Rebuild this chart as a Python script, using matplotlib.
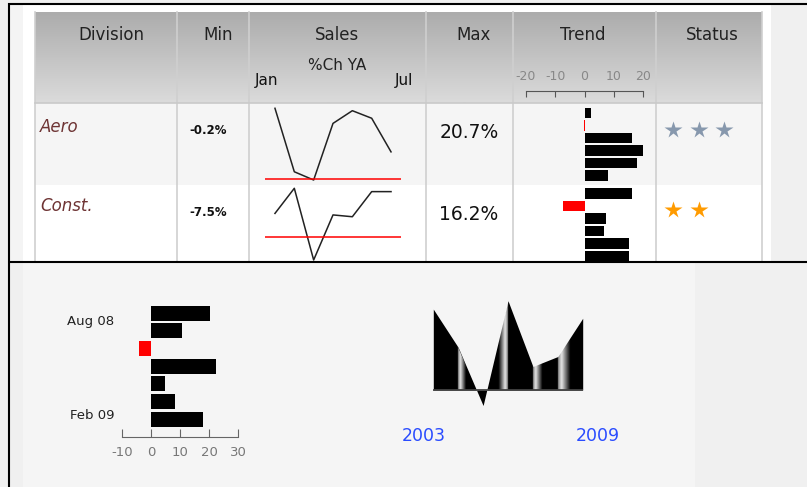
import numpy as np
import matplotlib.pyplot as plt
from matplotlib.patches import Rectangle
from matplotlib.colors import LinearSegmentedColormap

plt.rcParams["axes.unicode_minus"] = False

W, H = 807, 487

# values
headers = ["Division", "Min", "Sales", "Max", "Trend", "Status"]
divisions = ["Aero", "Const."]
min_text = ["-0.2%", "-7.5%"]
max_text = ["20.7%", "16.2%"]
months = ["Jan", "Feb", "Mar", "Apr", "May", "Jun", "Jul"]
aero_sales = [20.7, 2.2, -0.2, 16.3, 20.0, 17.8, 8.0]
const_sales = [7.9, 16.2, -7.5, 7.4, 6.8, 15.1, 15.1]
stars = [3, 2]
star_colors = ["#8798ad", "#ff9b00"]
trend_ticks = [-20, -10, 0, 10, 20]

month_labels = ["Aug 08", "Feb 09"]
month_vals = [20.3, 10.6, -4.2, 22.4, 4.9, 8.4, 18.0]
bar_ticks = [-10, 0, 10, 20, 30]
years = [2003, 2004, 2005, 2006, 2007, 2008, 2009]
year_vals = [20.3, 10.7, -3.9, 22.4, 5.9, 8.4, 18.0]

# layout (pixels)
col_x = [35, 177, 249, 426, 513, 656, 762]
hdr_cx = [111, 218, 337, 474, 583, 712]
row_y = [103, 184.5, 261]
name_y = [126.5, 206]
min_y = [131, 213]
max_y = [133, 215]
spark_top = [108.3, 188.3]
bar0_y = [100.8, 181.2]
bar_pitch = 12.46

fig = plt.figure(figsize=(W / 100, H / 100), dpi=100)
fig.patch.set_facecolor("#f0f0f0")


def px_axes(x0, y0, x1, y1):
    ax = fig.add_axes([x0 / W, 1 - y1 / H, (x1 - x0) / W, (y1 - y0) / H])
    ax.patch.set_alpha(0)
    return ax


bg = px_axes(0, 0, W, H)


def box(x0, y0, x1, y1, color, z=0):
    bg.add_patch(Rectangle((x0, y0), x1 - x0, y1 - y0, color=color, lw=0, zorder=z))


box(10, 5, 23, 261, "#f4f4f4")
box(23, 5, 771, 261, "white")
box(23, 263, 695, H, "#f5f5f5")

cmap = LinearSegmentedColormap.from_list("hdr", ["#acacac", "#dbdbdb"])
bg.imshow(np.linspace(0, 1, 64).reshape(-1, 1), cmap=cmap, aspect="auto",
          extent=(col_x[0], col_x[-1], row_y[0], 12), zorder=1)
box(col_x[0], row_y[0], col_x[-1], row_y[1], "#f5f5f5", 1)

for x in col_x:
    bg.plot([x, x], [12, 261], color="#cfcfcf", lw=1.2, zorder=2)
bg.plot([col_x[0], col_x[-1]], [row_y[0], row_y[0]], color="#c9c9c9", lw=1.2, zorder=2)

frame = dict(color="black", lw=1.5, zorder=10, solid_capstyle="butt")
bg.plot([8, W], [4, 4], **frame)
bg.plot([9, 9], [3, H], **frame)
bg.plot([8, W], [262, 262], **frame)

bg.set_xlim(0, W)
bg.set_ylim(H, 0)
bg.axis("off")

# header text
for name, cx in zip(headers, hdr_cx):
    bg.text(cx, 35, name, ha="center", va="center", fontsize=12, color="#222")
bg.text(337, 65, "%Ch YA", ha="center", va="center", fontsize=11, color="#222")
bg.text(267, 81, months[0], ha="center", va="center", fontsize=11, color="#111")
bg.text(404, 81, months[-1], ha="center", va="center", fontsize=11, color="#111")

# trend scale in header
ax = px_axes(526, 91, 643, 100)
ax.set_xlim(-20, 20)
for s in ["left", "right", "bottom"]:
    ax.spines[s].set_visible(False)
ax.spines["top"].set_color("#555")
ax.set_yticks([])
ax.xaxis.tick_top()
ax.set_xticks(trend_ticks)
ax.tick_params(axis="x", direction="in", length=4.5, color="#555",
               labelcolor="#888", labelsize=9, pad=6)

# rows
sales = [aero_sales, const_sales]
for r in range(2):
    y0, y1 = row_y[r], row_y[r + 1]
    bg.text(40, name_y[r], divisions[r], style="italic", color="#6e3434",
            fontsize=12, va="center")
    bg.text(208, min_y[r], min_text[r], ha="center", va="center",
            fontsize=8.5, fontweight="bold", color="#111")
    bg.text(469, max_y[r], max_text[r], ha="center", va="center",
            fontsize=13.5, color="#111")
    for i in range(stars[r]):
        bg.plot(673 + 25.5 * i, name_y[r] + 3.5, marker="*", ms=13,
                color=star_colors[r], mec="none")

    vals = sales[r]
    sp = px_axes(265.3, spark_top[r], 400.7, spark_top[r] + 71.7)
    sp.plot(range(len(vals)), vals, color="#222", lw=1.1, clip_on=False)
    sp.axhline(0, color="red", lw=1.1)
    sp.set_xlim(-0.5, len(vals) - 0.5)
    sp.set_ylim(min(vals), max(vals))
    sp.axis("off")

    # the first month sits above the cell and is cut off
    top = y0 + 3.5
    tb = px_axes(526, top, 643, y1)
    tb.barh(range(len(vals)), vals, height=0.84,
            color=["red" if v < 0 else "black" for v in vals])
    tb.set_xlim(-20, 20)
    tb.set_ylim((y1 - bar0_y[r]) / bar_pitch, (top - bar0_y[r]) / bar_pitch)
    tb.axis("off")

# monthly bar chart
mb = px_axes(122, 300, 238, 436.7)
mb.barh(range(len(month_vals)), month_vals, height=0.85,
        color=["red" if v < 0 else "black" for v in month_vals])
mb.set_xlim(-10, 30)
mb.set_ylim((436.7 - 313.2) / 17.67, (300 - 313.2) / 17.67)
for s in ["left", "right", "top"]:
    mb.spines[s].set_visible(False)
mb.spines["bottom"].set_color("#666")
mb.set_xticks(bar_ticks)
mb.tick_params(axis="x", direction="in", length=6, color="#666",
               labelcolor="#777", labelsize=9.5, pad=7)
mb.set_yticks([0.4, 5.7], month_labels)
mb.tick_params(axis="y", length=0, pad=5.5, labelsize=9.5, labelcolor="#222")

# yearly area sparkline with light streaks
ya = px_axes(433.3, 290, 582.7, 420)
area = ya.fill_between(years, year_vals, 0, color="black", lw=0)
ya.set_xlim(years[0], years[-1])
ya.set_ylim(-7.54, 25.1)

xs = np.linspace(years[0], years[-1], 600)
glow = np.zeros_like(xs)
for edge, side, width in [(2004, 1, 0.32), (2006, -1, 0.38), (2007, 1, 0.38), (2008, 1, 0.5)]:
    d = (xs - edge) * side
    prof = np.where((d >= 0) & (d <= width), 1 - np.abs(d - width * 0.3) / (width * 0.7), 0)
    glow = np.maximum(glow, np.clip(prof, 0, 1))
rgba = np.ones((1, xs.size, 4))
rgba[0, :, 3] = glow * 0.9
im = ya.imshow(rgba, extent=(years[0], years[-1], -7.54, 25.1), aspect="auto",
               interpolation="bilinear", zorder=3)
im.set_clip_path(area.get_paths()[0], transform=ya.transData)
ya.axhline(0, color="#444", lw=1.3, zorder=4)
ya.set_xlim(years[0], years[-1])
ya.set_ylim(-7.54, 25.1)
ya.axis("off")
for yr, dx in [(years[0], -10), (years[-1], 15)]:
    ya.annotate(str(yr), xy=(yr, 0), xytext=(dx * 0.72, -46 * 0.72),
                textcoords="offset points", ha="center", va="center",
                fontsize=12.5, color="#2a4cff")

fig.savefig("out.png", dpi=100, facecolor=fig.get_facecolor())
